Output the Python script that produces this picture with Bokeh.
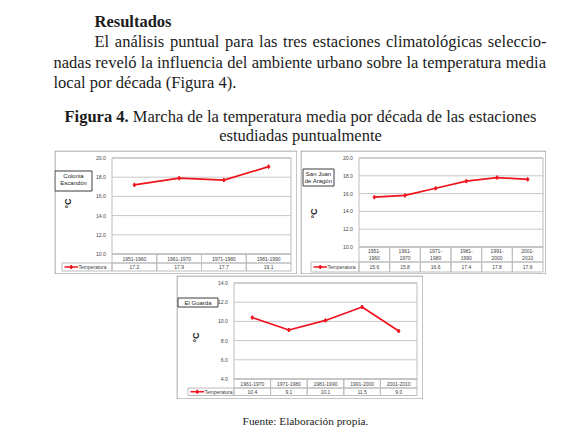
import math
from bokeh.plotting import figure
from bokeh.models import Range1d, LinearAxis, FixedTicker, PrintfTickFormatter, Spacer
from bokeh.layouts import column, row
from bokeh.core.properties import value
from bokeh.embed import file_html
from bokeh.resources import INLINE

# ---------------- data ----------------
col_name = ["Colonia", "Escandón"]
col_cats = ["1951-1960", "1961-1970", "1971-1980", "1981-1990"]
col_vals = [17.2, 17.9, 17.7, 19.1]
col_ticks = [10.0, 12.0, 14.0, 16.0, 18.0, 20.0]

sja_name = ["San Juan", "de Aragón"]
sja_cats = ["1951-1960", "1961-1970", "1971-1980", "1981-1990", "1991-2000", "2001-2010"]
sja_vals = [15.6, 15.8, 16.6, 17.4, 17.8, 17.6]
sja_ticks = [10.0, 12.0, 14.0, 16.0, 18.0, 20.0]

gua_name = ["El Guarda"]
gua_cats = ["1961-1970", "1971-1980", "1981-1990", "1991-2000", "2001-2010"]
gua_vals = [10.4, 9.1, 10.1, 11.5, 9.0]
gua_ticks = [4.0, 6.0, 8.0, 10.0, 12.0, 14.0]

series_name = "Temperatura"
y_title = "°C"

heading = "Resultados"
para_l1 = "El análisis puntual para las tres estaciones climatológicas seleccio-"
para_l2 = "nadas reveló la influencia del ambiente urbano sobre la temperatura media"
para_l3 = "local por década (Figura 4)."
cap_bold = "Figura 4."
cap_l1 = "Marcha de la temperatura media por década de las estaciones"
cap_l2 = "estudiadas puntualmente"
footer = "Fuente: Elaboración propia."

# ---------------- styles ----------------
RED = "#f0141e"
GRID = "#c8c8c8"
SANS = "Liberation Sans"
SERIF = "Liberation Serif"
INK = "#1b1b1b"

# Times metric widths (Liberation Serif is metric compatible)
TR = {" ": 250, "(": 333, ")": 333, ".": 250, "-": 333, ":": 278, "4": 500,
      "E": 611, "F": 556, "M": 889, "a": 444, "b": 500, "c": 444, "d": 500,
      "e": 444, "f": 333, "g": 500, "h": 500, "i": 278, "l": 278, "m": 778,
      "n": 500, "o": 500, "p": 500, "r": 333, "s": 389, "t": 278, "u": 500,
      "v": 500, "á": 444, "é": 444, "ó": 500}
TB = {" ": 250, ".": 250, "4": 500, "R": 722, "F": 611, "e": 444, "s": 389,
      "u": 556, "l": 278, "t": 333, "a": 500, "d": 556, "o": 500, "i": 278,
      "g": 500, "r": 444}


def tw(s, table, size):
    return sum(table.get(c, 500) for c in s) * size / 1000.0


FS = 16.5


def bare_fig(w, h, xr, yr):
    p = figure(width=w, height=h, x_range=Range1d(*xr), y_range=Range1d(*yr),
               output_backend="svg", toolbar_location=None,
               x_axis_location=None, y_axis_location=None, min_border=0,
               outline_line_color=None, background_fill_color="white",
               border_fill_color="white")
    p.grid.visible = False
    return p


# ---------------- text block ----------------
txt = bare_fig(569, 150, (0, 569), (150, 0))
reg_x, reg_y, reg_t = [], [], []
bold_x, bold_y, bold_t = [], [], []


def justify(line, x0, x1, y):
    words = line.split(" ")
    ws = [tw(w, TR, FS) for w in words]
    gap = (x1 - x0 - sum(ws)) / (len(words) - 1)
    x = x0
    for w, wd in zip(words, ws):
        reg_x.append(x); reg_y.append(y); reg_t.append(w)
        x += wd + gap


def natural(items, x0, y):
    x = x0
    for w, b in items:
        if b:
            bold_x.append(x); bold_y.append(y); bold_t.append(w)
            x += tw(w, TB, FS)
        else:
            reg_x.append(x); reg_y.append(y); reg_t.append(w)
            x += tw(w, TR, FS)
        x += tw(" ", TR, FS)


def width_items(items):
    return sum(tw(w, TB if b else TR, FS) for w, b in items) + tw(" ", TR, FS) * (len(items) - 1)


natural([(heading, True)], 94, 20.5)
justify(para_l1, 94, 546, 41)
justify(para_l2, 53, 545.5, 61.5)
natural([(w, False) for w in para_l3.split(" ")], 53, 82)
cap1 = [(w, True) for w in cap_bold.split(" ")] + [(w, False) for w in cap_l1.split(" ")]
natural(cap1, 300 - width_items(cap1) / 2, 116)
cap2 = [(w, False) for w in cap_l2.split(" ")]
natural(cap2, 300 - width_items(cap2) / 2, 134.5)

txt.text(x=reg_x, y=reg_y, text=reg_t, text_font=value(SERIF), text_font_size=value(f"{FS}px"),
         text_color=INK, text_align="left", text_baseline="middle")
txt.text(x=bold_x, y=bold_y, text=bold_t, text_font=value(SERIF), text_font_size=value(f"{FS}px"),
         text_font_style="bold", text_color=INK, text_align="left", text_baseline="middle")


# ---------------- charts ----------------
def make_chart(W, H, g, cats, vals, ticks, station):
    n = len(cats)
    ymin, ymax = ticks[0], ticks[-1]
    kx = (g["pr"] - g["pl"]) / n
    ky = (g["pb"] - g["pt"]) / (ymax - ymin)

    def X(px):
        return (px - g["pl"]) / kx

    def Y(py):
        return ymin + (g["pb"] - py) / ky

    p = bare_fig(W, H, (X(0), X(W)), (Y(H), Y(0)))

    # outer chart border
    p.quad(left=[X(0.5)], right=[X(W - 0.5)], top=[Y(0.5)], bottom=[Y(H - 0.5)],
           fill_color=None, line_color="#8c8c8c", line_width=1)

    # horizontal gridlines at the tick values
    p.segment(x0=[0] * len(ticks), x1=[n] * len(ticks), y0=ticks, y1=ticks,
              line_color=GRID, line_width=1)
    # plot area border
    p.quad(left=[0], right=[n], bottom=[ymin], top=[ymax], fill_color=None,
           line_color="#bdbdbd", line_width=1)

    # data table
    yh = Y(g["pb"] + g["hh"])
    yv = Y(g["pb"] + g["hh"] + g["vh"])
    idx = list(range(n))
    p.quad(left=idx, right=[i + 1 for i in idx], top=[ymin] * n, bottom=[yh] * n,
           fill_color=None, line_color="#bdbdbd", line_width=1)
    p.quad(left=idx, right=[i + 1 for i in idx], top=[yh] * n, bottom=[yv] * n,
           fill_color=None, line_color="#bdbdbd", line_width=1)
    p.quad(left=[X(g["kl"])], right=[0], top=[yh], bottom=[yv],
           fill_color=None, line_color="#bdbdbd", line_width=1)

    xc = [i + 0.5 for i in idx]
    tfont = dict(text_font=value(SANS), text_font_size=value("5px"), text_color="#404040",
                 text_align="center", text_baseline="middle")
    if g["split"]:
        top_part = [c.split("-")[0] + "-" for c in cats]
        bot_part = [c.split("-")[1] for c in cats]
        p.text(x=xc, y=[Y(g["pb"] + 4)] * n, text=top_part, **tfont)
        p.text(x=xc, y=[Y(g["pb"] + 10.5)] * n, text=bot_part, **tfont)
    else:
        p.text(x=xc, y=[Y(g["pb"] + g["hh"] / 2)] * n, text=cats, **tfont)
    ymid_v = Y(g["pb"] + g["hh"] + g["vh"] / 2)
    p.text(x=xc, y=[ymid_v] * n, text=[f"{v:.1f}" for v in vals], **tfont)

    # legend key inside the table
    k0, k1 = X(g["kl"] + 2.5), X(g["kl"] + 16)
    p.line(x=[k0, k1], y=[ymid_v, ymid_v], line_color=RED, line_width=1.6)
    p.scatter(x=[(k0 + k1) / 2], y=[ymid_v], marker="diamond", size=4, color=RED)
    p.text(x=[X(g["kl"] + 16.5)], y=[ymid_v], text=[series_name], text_font=value(SANS),
           text_font_size=value("5px"), text_color="#404040", text_align="left",
           text_baseline="middle")

    # series
    p.line(x=xc, y=vals, line_color=RED, line_width=1.7)
    p.scatter(x=xc, y=vals, marker="diamond", size=4, color=RED)

    # station label box
    bx0, bx1, by0, by1 = g["box"]
    p.quad(left=[X(bx0)], right=[X(bx1)], top=[Y(by0)], bottom=[Y(by1)],
           fill_color="white", line_color="#3c3c3c", line_width=1)
    p.text(x=[X((bx0 + bx1) / 2)] * len(station), y=[Y(v) for v in g["lines"]],
           text=station, text_font=value(SANS), text_font_size=value("6px"),
           text_color="#262626", text_align="center", text_baseline="middle")

    # axis title
    p.text(x=[X(g["deg"][0])], y=[Y(g["deg"][1])], text=[y_title], angle=math.pi / 2,
           text_font=value(SANS), text_font_size=value("9px"), text_font_style="bold",
           text_color="#262626", text_align="center", text_baseline="middle")

    # value axis drawn at the left edge of the plot area
    ax = LinearAxis(fixed_location=0, ticker=FixedTicker(ticks=ticks),
                    formatter=PrintfTickFormatter(format="%.1f"),
                    axis_line_color=None, major_tick_line_color=None,
                    minor_tick_line_color=None, major_tick_in=0, major_tick_out=0,
                    major_label_standoff=g["so"], major_label_text_font=SANS,
                    major_label_text_font_size="5.2px", major_label_text_color="#4a4a4a")
    p.add_layout(ax, "left")
    return p


g1 = dict(pl=57.5, pr=236.5, pt=7.5, pb=103.5, hh=9, vh=8, kl=7.5, split=False,
          box=(0.5, 37.5, 20.5, 40.5), lines=[25, 32], deg=(13, 53), so=6)
g2 = dict(pl=58.5, pr=242.5, pt=7.5, pb=96.5, hh=15, vh=10, kl=10.5, split=True,
          box=(2.5, 33.5, 18.5, 35.5), lines=[23.5, 30.5], deg=(13, 63), so=6)
g3 = dict(pl=57.5, pr=240.5, pt=7.5, pb=103.5, hh=9, vh=7.5, kl=11.5, split=False,
          box=(1.5, 41.5, 22.5, 31.5), lines=[27], deg=(19, 62), so=6)

c1 = make_chart(243, 124, g1, col_cats, col_vals, col_ticks, col_name)
c2 = make_chart(246, 124, g2, sja_cats, sja_vals, sja_ticks, sja_name)
c3 = make_chart(247, 124, g3, gua_cats, gua_vals, gua_ticks, gua_name)

# ---------------- footer ----------------
foot = bare_fig(569, 30, (0, 569), (429, 399))
foot.text(x=[305], y=[420.5], text=[footer], text_font=value(SERIF),
          text_font_size=value("11.3px"), text_color=INK, text_align="center",
          text_baseline="middle")

r1 = row(Spacer(width=54, height=124), c1, Spacer(width=3, height=124), c2)
r2 = row(Spacer(width=176, height=124), c3)
page = column(txt, r1, Spacer(width=10, height=1), r2, foot)

open("out.html", "w").write(file_html(page, INLINE))
